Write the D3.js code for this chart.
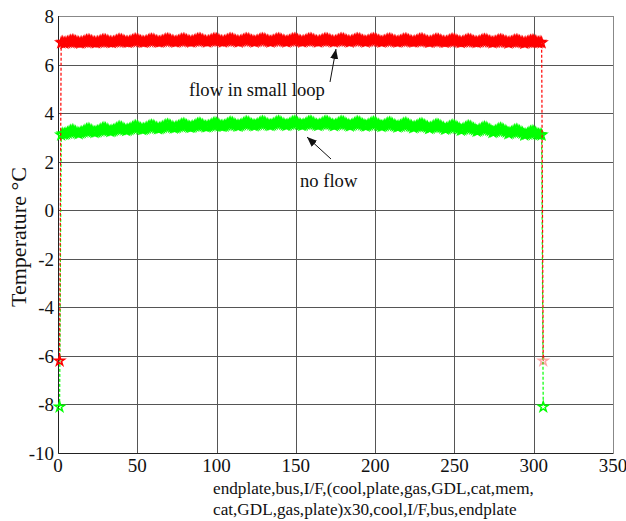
<!DOCTYPE html>
<html lang="en">
<head>
    <meta charset="UTF-8" />
    <title>Stack temperature profile</title>
    <script src="https://d3js.org/d3.v7.min.js"></script>
    <style>
        body {
            margin: 0;
            background: #fff;
        }
        svg text {
            font-family: "Liberation Serif", "Times New Roman", serif;
            fill: #111;
        }
    </style>
</head>
<body>
<svg id="chart"></svg>

<script>
    // layers: endplate,bus,I/F, 30 x (cool,plate,gas,GDL,cat,mem,cat,GDL,gas,plate), cool/I/F,bus,endplate
    const leftEndNoFlow = [-8.1, 3.1, 3.15];
    const leftEndFlow = [-6.2, 6.9, 6.92];
    const rightEndNoFlow = [3.12, 3.1, -8.1];
    const rightEndFlow = [6.92, 6.9, -6.2];

    // mean temperature of each of the 30 cells
    const cellNoFlow = [3.22, 3.27, 3.31, 3.35, 3.39, 3.42, 3.45, 3.48, 3.5, 3.52,
                        3.54, 3.56, 3.57, 3.58, 3.58, 3.58, 3.58, 3.57, 3.56, 3.55,
                        3.53, 3.51, 3.48, 3.45, 3.42, 3.38, 3.34, 3.29, 3.24, 3.18];
    const cellFlow = [6.94, 6.95, 6.96, 6.97, 6.98, 6.98, 6.99, 6.99, 7.0, 7.0,
                      7.0, 7.0, 7.0, 7.0, 7.0, 7.0, 7.0, 7.0, 7.0, 7.0,
                      6.99, 6.99, 6.99, 6.98, 6.98, 6.97, 6.97, 6.96, 6.95, 6.94];

    // offset of each layer inside a cell
    const layerNoFlow = [-0.08, -0.06, -0.03, 0.01, 0.05, 0.07, 0.05, 0.01, -0.03, -0.06];
    const layerFlow = [-0.06, -0.04, -0.02, 0.01, 0.04, 0.05, 0.04, 0.01, -0.02, -0.04];

    const xTicks = [0, 50, 100, 150, 200, 250, 300, 350];
    const yTicks = [-10, -8, -6, -4, -2, 0, 2, 4, 6, 8];

    function buildSeries(left, cells, layer, right) {
        const vals = [...left];
        cells.forEach(m => layer.forEach(o => vals.push(m + o)));
        vals.push(...right);
        return vals.map((v, i) => ({ x: i + 1, y: v }));
    }

    const noFlow = buildSeries(leftEndNoFlow, cellNoFlow, layerNoFlow, rightEndNoFlow);
    const flow = buildSeries(leftEndFlow, cellFlow, layerFlow, rightEndFlow);

    const width = 626, height = 521;
    const margin = { top: 16, right: 13, bottom: 68, left: 58 };

    const svg = d3.select("#chart").attr("width", width).attr("height", height);

    const x = d3.scaleLinear().domain([0, 350]).range([margin.left, width - margin.right]);
    const y = d3.scaleLinear().domain([-10, 8]).range([height - margin.bottom, margin.top]);

    // grid
    const grid = svg.append("g").attr("stroke", "#555").attr("stroke-width", 1);
    grid.selectAll("line.v")
        .data(xTicks.slice(1, -1))
        .join("line")
        .attr("x1", d => Math.round(x(d)) + 0.5)
        .attr("x2", d => Math.round(x(d)) + 0.5)
        .attr("y1", y(8))
        .attr("y2", y(-10));
    grid.selectAll("line.h")
        .data(yTicks.slice(1, -1))
        .join("line")
        .attr("y1", d => Math.round(y(d)) + 0.5)
        .attr("y2", d => Math.round(y(d)) + 0.5)
        .attr("x1", x(0))
        .attr("x2", x(350));

    // frame
    svg.append("rect")
        .attr("x", Math.round(x(0)) + 0.5)
        .attr("y", Math.round(y(8)) + 0.5)
        .attr("width", Math.round(x(350) - x(0)))
        .attr("height", Math.round(y(-10) - y(8)))
        .attr("fill", "none")
        .attr("stroke", "#888");
    svg.append("path")
        .attr("d", `M${Math.round(x(0)) + 0.5},${Math.round(y(8))}V${Math.round(y(-10)) + 0.5}H${Math.round(x(350))}`)
        .attr("fill", "none")
        .attr("stroke", "#222");

    // tick labels
    svg.append("g")
        .attr("font-size", 19)
        .attr("text-anchor", "middle")
        .selectAll("text")
        .data(xTicks)
        .join("text")
        .attr("x", d => x(d))
        .attr("y", 472)
        .text(d => d);

    svg.append("g")
        .attr("font-size", 19)
        .attr("text-anchor", "end")
        .selectAll("text")
        .data(yTicks)
        .join("text")
        .attr("x", 54)
        .attr("y", d => y(d) + 7)
        .text(d => d);

    // series
    const line = d3.line().x(d => x(d.x)).y(d => y(d.y));
    const star = d3.symbol(d3.symbolStar, 30);

    function drawSeries(data, color, lastOpacity) {
        const g = svg.append("g");
        g.append("path")
            .datum(data)
            .attr("d", line)
            .attr("fill", "none")
            .attr("stroke", color)
            .attr("stroke-width", 1.2)
            .attr("stroke-dasharray", "3,2");
        g.selectAll("path.m")
            .data(data)
            .join("path")
            .attr("class", "m")
            .attr("transform", d => `translate(${x(d.x)},${y(d.y)})`)
            .attr("d", star)
            .attr("fill", "none")
            .attr("stroke", color)
            .attr("stroke-width", 1.5)
            .attr("opacity", (d, i) => i === data.length - 1 ? lastOpacity : 1);
    }

    drawSeries(noFlow, "#00ff00", 1);
    drawSeries(flow, "#ff0000", 0.35);

    // annotations
    svg.append("defs").append("marker")
        .attr("id", "head")
        .attr("viewBox", "0 0 10 10")
        .attr("refX", 10)
        .attr("refY", 5)
        .attr("markerWidth", 10)
        .attr("markerHeight", 10)
        .attr("markerUnits", "userSpaceOnUse")
        .attr("orient", "auto")
        .append("path")
        .attr("d", "M0,1L10,5L0,9Z")
        .attr("fill", "#111");

    svg.append("line")
        .attr("x1", 330).attr("y1", 82)
        .attr("x2", 336).attr("y2", 49)
        .attr("stroke", "#111")
        .attr("marker-end", "url(#head)");
    svg.append("line")
        .attr("x1", 331).attr("y1", 159)
        .attr("x2", 307).attr("y2", 137)
        .attr("stroke", "#111")
        .attr("marker-end", "url(#head)");

    svg.append("text")
        .attr("x", 189).attr("y", 96)
        .attr("font-size", 18.6)
        .text("flow in small loop");
    svg.append("text")
        .attr("x", 300).attr("y", 187)
        .attr("font-size", 18.6)
        .text("no flow");

    // axis titles
    svg.append("text")
        .attr("transform", "translate(26,237) rotate(-90)")
        .attr("text-anchor", "middle")
        .attr("font-size", 22)
        .text("Temperature °C");

    svg.append("text")
        .attr("x", 213).attr("y", 494)
        .attr("font-size", 17.2)
        .text("endplate,bus,I/F,(cool,plate,gas,GDL,cat,mem,");
    svg.append("text")
        .attr("x", 213).attr("y", 515)
        .attr("font-size", 17.2)
        .text("cat,GDL,gas,plate)x30,cool,I/F,bus,endplate");
</script>
</body>
</html>
